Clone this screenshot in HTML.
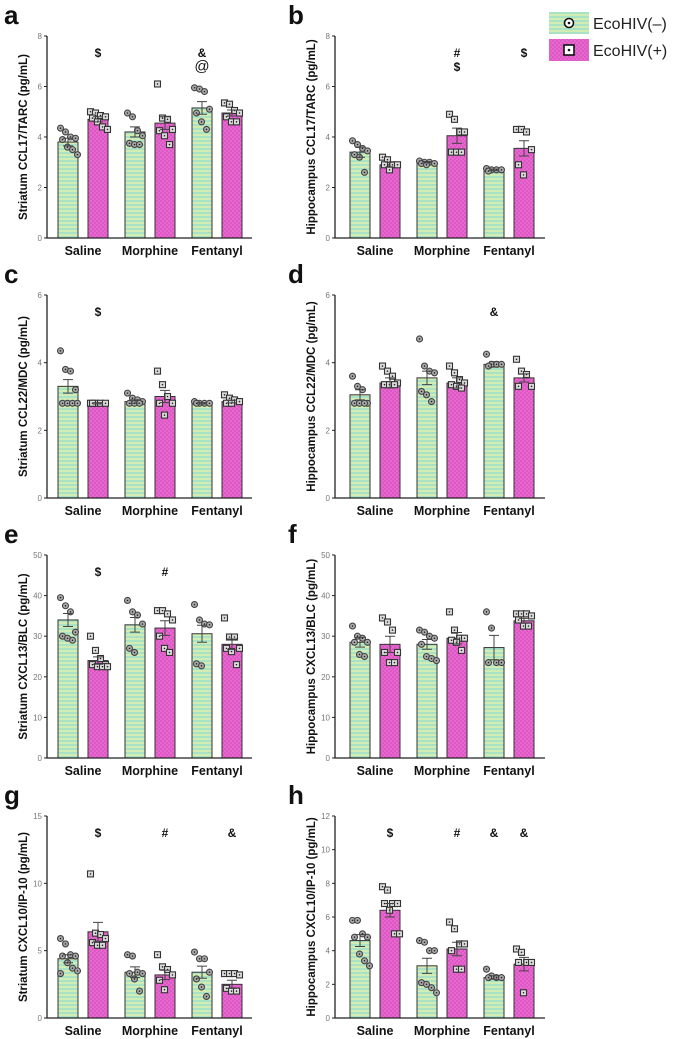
<!DOCTYPE html>
<html><head><meta charset="utf-8"><style>
html,body{margin:0;padding:0;background:#fff;}
svg{display:block;font-family:"Liberation Sans",sans-serif;}
</style></head><body>
<svg id="fig" width="680" height="1039" viewBox="0 0 680 1039" xmlns="http://www.w3.org/2000/svg">
<defs>
<pattern id="pg" width="4" height="4" patternUnits="userSpaceOnUse"><rect width="4" height="4" fill="#a9e2c4"/><rect y="2" width="4" height="2" fill="#d2edb4"/></pattern>
<pattern id="pp" width="4" height="4" patternUnits="userSpaceOnUse"><rect width="4" height="4" fill="#e867cf"/><rect width="2" height="2" fill="#dc58c4"/><rect x="2" y="2" width="2" height="2" fill="#dc58c4"/></pattern>
</defs>
<g>
<rect x="549" y="12" width="40" height="22" fill="url(#pg)"/>
<circle cx="569" cy="23" r="4.5" fill="#fff" stroke="#111" stroke-width="1.6"/><circle cx="569" cy="23" r="1.3" fill="#111"/>
<text x="593" y="29" font-size="16" fill="#222">EcoHIV(–)</text>
<rect x="549" y="39" width="40" height="22" fill="url(#pp)"/>
<rect x="564" y="45" width="10" height="10" fill="#fff" stroke="#111" stroke-width="1.6"/><circle cx="569" cy="50" r="1.3" fill="#111"/>
<text x="593" y="56" font-size="16" fill="#222">EcoHIV(+)</text>
</g>
</svg>
<script>
const categories = ["Saline","Morphine","Fentanyl"];
const panelLetters = ["a","b","c","d","e","f","g","h"];
const yTitles = ["Striatum CCL17/TARC (pg/mL)","Hippocampus CCL17/TARC (pg/mL)","Striatum CCL22/MDC (pg/mL)","Hippocampus CCL22/MDC (pg/mL)","Striatum CXCL13/BLC (pg/mL)","Hippocampus CXCL13/BLC (pg/mL)","Striatum CXCL10/IP-10 (pg/mL)","Hippocampus CXCL10/IP-10 (pg/mL)"];
const yMax = [8,8,6,6,50,50,15,12];
const yTickStep = [2,2,2,2,10,10,5,2];
// means per panel: [Sal-, Sal+, Mor-, Mor+, Fen-, Fen+]
const meansA = [3.8,4.7,4.2,4.55,5.15,4.95];
const meansB = [3.4,2.9,3.0,4.05,2.7,3.55];
const meansC = [3.3,2.8,2.85,3.0,2.8,2.85];
const meansD = [3.05,3.4,3.55,3.4,3.95,3.55];
const meansE = [34,24,32.8,32,30.6,28];
const meansF = [28.5,28,28,29.5,27.2,33.8];
const meansG = [4.4,6.4,3.4,3.2,3.4,2.5];
const meansH = [4.6,6.4,3.1,4.1,2.4,3.2];
const semA = [0.15,0.1,0.2,0.25,0.25,0.12];
const semB = [0.2,0.1,0.03,0.3,0.03,0.3];
const semC = [0.2,0.02,0.05,0.18,0.02,0.04];
const semD = [0.15,0.15,0.2,0.15,0.08,0.12];
const semE = [1.6,0.9,1.8,1.8,2.1,1.3];
const semF = [1.2,2.0,1.2,1.4,3.0,0.6];
const semG = [0.3,0.7,0.4,0.35,0.45,0.3];
const semH = [0.35,0.4,0.45,0.4,0.1,0.4];
const ptsA = [[4.35,4.2,4.0,3.95,3.9,3.6,3.5,3.3],[5.0,4.95,4.85,4.8,4.75,4.6,4.4,4.3],[4.95,4.8,4.25,4.05,3.75,3.7,3.7],[6.1,4.75,4.7,4.3,4.25,4.05,3.7],[5.95,5.9,5.8,5.1,4.95,4.6,4.3],[5.35,5.3,5.05,4.95,4.8,4.6,4.6]];
const ptsB = [[3.85,3.7,3.55,3.45,3.3,3.2,2.6],[3.2,3.1,2.9,2.9,2.9,2.7],[3.05,3.0,3.0,2.95,2.95,2.9],[4.9,4.7,4.2,4.2,3.4,3.4,3.4],[2.75,2.7,2.7,2.7,2.65],[4.3,4.3,4.2,3.5,2.9,2.5]];
const ptsC = [[4.35,3.8,3.75,3.2,2.8,2.8,2.8,2.8],[2.8,2.8,2.8,2.8,2.8],[3.1,2.95,2.9,2.85,2.8,2.8,2.8],[3.75,3.35,3.0,2.8,2.8,2.45],[2.85,2.8,2.8,2.8,2.8],[3.05,2.95,2.9,2.85,2.8,2.8]];
const ptsD = [[3.6,3.3,3.2,2.8,2.8,2.8,2.8],[3.9,3.75,3.6,3.4,3.35,3.35,3.35],[4.7,3.9,3.75,3.7,3.15,3.05,2.85],[3.9,3.7,3.5,3.4,3.35,3.3,3.25],[4.25,3.95,3.95,3.95,3.9],[4.1,3.75,3.65,3.3,3.3]];
const ptsE = [[39.5,37.5,36,31,30,29.5,29],[30,26.5,24.5,23,23,22.5,22.5,22.5],[38.8,36,35.2,33,27,26],[36.3,36.3,35.5,34,30,27,26],[37.8,34,33,32.8,23.2,22.7],[34.5,29.8,29.8,27,27,26.2,23]];
const ptsF = [[32.5,30,29.5,28.5,28.5,25.5,25],[34.5,33.5,31.5,26,26,23.5,23.5],[31.5,31,30,29.5,28,25,24.5,24],[36,31.5,29.5,29.5,29,28.5,26.5],[36,32,23.5,23.5,23.5],[35.5,35.5,35.5,35,34,32.5,32.5]];
const ptsG = [[5.9,5.5,4.7,4.6,4.6,4.1,3.7,3.5,3.3],[10.7,6.3,6.2,5.9,5.6,5.4,5.4],[4.7,4.6,3.4,3.3,3.3,2.9,2.0],[4.7,3.8,3.6,3.2,2.8,2.1],[4.9,4.4,4.4,3.4,2.9,2.3,1.6],[3.3,3.3,3.3,3.2,2.2,2.0,2.0]];
const ptsH = [[5.8,5.8,5.0,4.8,4.8,3.8,3.4,3.1],[7.8,7.6,6.8,6.8,6.8,6.4,5.0,5.0],[4.6,4.5,4.0,4.0,2.1,2.0,1.8,1.5],[5.7,5.3,4.4,4.4,4.0,2.9,2.9],[2.9,2.5,2.4,2.4,2.4],[4.1,3.9,3.3,3.3,3.3,1.5]];
// annotations: [barIndex, symbol, rowLevel]
const annA = [[1,"$",0],[4,"&",0],[4,"@",1]];
const annB = [[3,"#",0],[3,"$",1],[5,"$",0]];
const annC = [[1,"$",0]];
const annD = [[4,"&",0]];
const annE = [[1,"$",0],[3,"#",0]];
const annF = [];
const annG = [[1,"$",0],[3,"#",0],[5,"&",0]];
const annH = [[1,"$",0],[3,"#",0],[4,"&",0],[5,"&",0]];

const allMeans=[meansA,meansB,meansC,meansD,meansE,meansF,meansG,meansH];
const allSem=[semA,semB,semC,semD,semE,semF,semG,semH];
const allPts=[ptsA,ptsB,ptsC,ptsD,ptsE,ptsF,ptsG,ptsH];
const allAnn=[annA,annB,annC,annD,annE,annF,annG,annH];
const NS="http://www.w3.org/2000/svg";
const svg=document.getElementById("fig");
function mk(tag,attrs,parent){const e=document.createElementNS(NS,tag);for(const k in attrs)e.setAttribute(k,attrs[k]);(parent||svg).appendChild(e);return e;}
const rowTop=[36,295,555,816], rowBot=[238,498,758,1018];
for(let p=0;p<8;p++){
  const col=p%2,row=Math.floor(p/2);
  const ax=col?335:47, top=rowTop[row], bot=rowBot[row];
  const g0=col?40:36;
  const y=v=>bot-(v/yMax[p])*(bot-top);
  const cx=i=>ax+g0+67*Math.floor(i/2)+(i%2?15:-15);
  const g=mk("g",{});
  
  
  const L=mk("text",{x:col?288:4,y:top-12,"font-size":26,"font-weight":"bold",fill:"#111"},g);L.textContent=panelLetters[p];
  
  
  const yt=mk("text",{x:0,y:0,"font-size":11.5,"font-weight":"bold",fill:"#111","text-anchor":"middle",transform:`translate(${ax-20},${(top+bot)/2}) rotate(-90)`},g);yt.textContent=yTitles[p];
  
  
  // bars
  for(let i=0;i<6;i++){
    const b=mk("rect",{x:cx(i)-10,y:y(allMeans[p][i]),width:20,height:bot-y(allMeans[p][i]),fill:i%2?"url(#pp)":"url(#pg)",stroke:"#333","stroke-width":1},g);
    
    
  }
  // points
  for(let i=0;i<6;i++){
    const arr=allPts[p][i];
    arr.forEach((v,k)=>{
      const n=arr.length;const off=((k%4)-1.5)*5*(n>4?1:0.8)+(Math.floor(k/4)%2?2:0);
      const px=cx(i)+off,py=y(v);
      let m;
      if(i%2){m=mk("rect",{x:px-3,y:py-3,width:6,height:6,fill:"#ddd",stroke:"#333","stroke-width":1.1},g);}
      else{m=mk("circle",{cx:px,cy:py,r:3,fill:"#aaa",stroke:"#444","stroke-width":1.1},g);}
      
      
      mk("circle",{cx:px,cy:py,r:0.8,fill:"#222"},g);
    });
  }
  // error bars
  for(let i=0;i<6;i++){
    const m=allMeans[p][i],s=allSem[p][i],c=cx(i);
    const e=mk("path",{d:`M${c} ${y(m-s)}V${y(m+s)}M${c-5} ${y(m+s)}H${c+5}M${c-5} ${y(m-s)}H${c+5}`,stroke:"#444","stroke-width":1,fill:"none"},g);
    
    
  }
  // axes
  const axl=mk("path",{d:`M${ax} ${top}V${bot}H${ax+(col?210:205)}`,stroke:"#222","stroke-width":1.3,fill:"none"},g);
  
  
  for(let v=0;v<=yMax[p];v+=yTickStep[p]){
    mk("line",{x1:ax-3,x2:ax,y1:y(v),y2:y(v),stroke:"#222","stroke-width":1},g);
    const t=mk("text",{x:ax-5,y:y(v)+3,"font-size":8,fill:"#777","text-anchor":"end"},g);t.textContent=v;
    
    
  }
  categories.forEach((c,k)=>{
    const t=mk("text",{x:ax+g0+67*k,y:bot+17,"font-size":12.5,"font-weight":"bold",fill:"#111","text-anchor":"middle"},g);t.textContent=c;
    
    
  });
  allAnn[p].forEach(a=>{
    const t=mk("text",{x:cx(a[0]),y:top+21+a[2]*14,"font-size":a[1]=="@"?15:12,"font-weight":a[1]=="@"?"normal":"bold",fill:"#111","text-anchor":"middle"},g);t.textContent=a[1];
    
    
  });
}
</script>
</body></html>
